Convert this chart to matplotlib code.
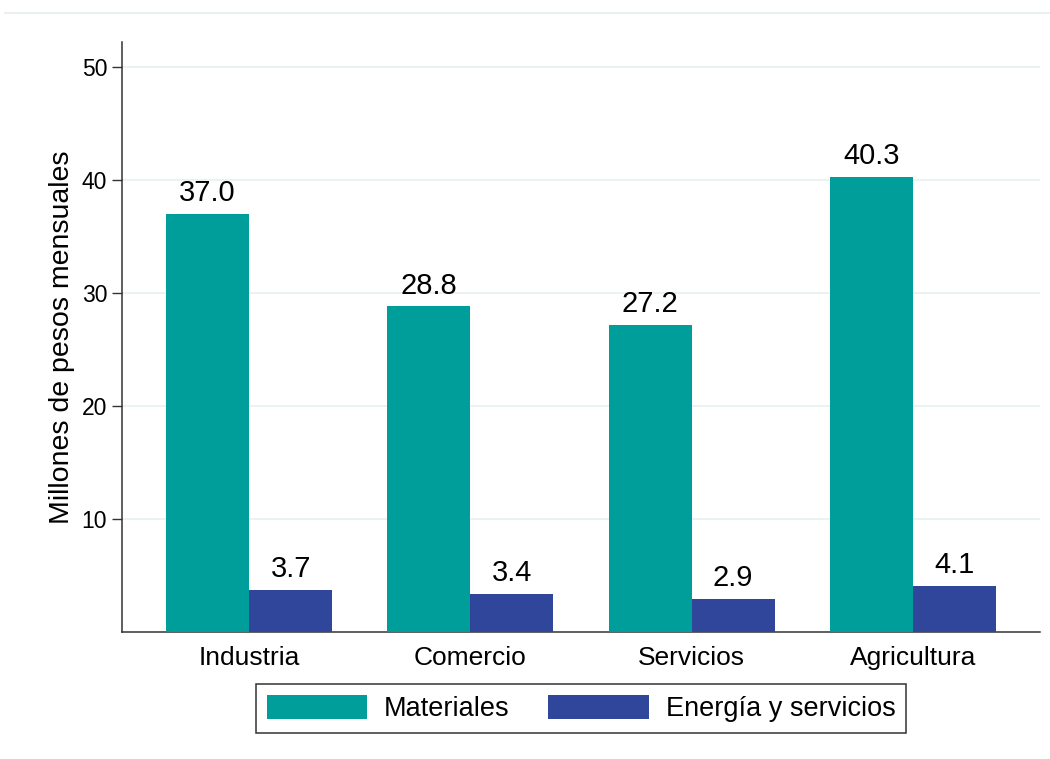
import matplotlib.pyplot as plt
import numpy as np
from matplotlib.lines import Line2D

plt.rcParams["font.family"] = ["Liberation Sans", "DejaVu Sans"]

# datos
sectores = ["Industria", "Comercio", "Servicios", "Agricultura"]
materiales = [37.0, 28.8, 27.2, 40.3]
energia = [3.7, 3.4, 2.9, 4.1]
series = ["Materiales", "Energía y servicios"]
yticks = [10, 20, 30, 40, 50]

col_mat = "#009e9a"
col_ene = "#30469a"

fig = plt.figure(figsize=(10.5, 7.59), dpi=100)
ax = fig.add_axes([122 / 1050, 1 - 632 / 759, (1040 - 122) / 1050, (632 - 42) / 759])

x = np.arange(len(sectores))
w = 0.3756
b1 = ax.bar(x - w / 2, materiales, width=w, color=col_mat, label=series[0], zorder=3)
b2 = ax.bar(x + w / 2, energia, width=w, color=col_ene, label=series[1], zorder=3)

for bars in (b1, b2):
    ax.bar_label(bars, fmt="%.1f", padding=5, fontsize=21, zorder=4)

ax.set_xlim(-0.575, 3.575)
ax.set_ylim(0, 52.2)
ax.set_xticks(x)
ax.set_xticklabels(sectores, fontsize=19)
ax.set_yticks(yticks)
ax.set_yticklabels([str(t) for t in yticks], fontsize=16.5)
ax.tick_params(axis="x", length=0, pad=10)
ax.tick_params(axis="y", length=7.2, width=1, color="#333333", pad=3.5)
ax.set_ylabel("Millones de pesos mensuales", fontsize=20.5, labelpad=5)

ax.grid(axis="y", color="#e8f0f1", linewidth=1.2, zorder=0)
for s in ("top", "right"):
    ax.spines[s].set_visible(False)
for s in ("left", "bottom"):
    ax.spines[s].set_color("#333333")
    ax.spines[s].set_linewidth(1.1)

leg = ax.legend(loc="center", bbox_to_anchor=(581 / 1050, 1 - 708.4 / 759),
                bbox_transform=fig.transFigure, ncol=2, fontsize=19.5,
                handlelength=3.7, handleheight=1.0, handletextpad=0.63,
                columnspacing=1.44, borderpad=0.4, fancybox=False,
                edgecolor="#333333", framealpha=1)
leg.get_frame().set_linewidth(1.1)

# linea superior del area del grafico
fig.add_artist(Line2D([5 / 1050, 1], [1 - 13 / 759, 1 - 13 / 759], color="#e6eeee",
                      linewidth=1.2, transform=fig.transFigure))

fig.savefig("out.png", dpi=100, facecolor="white")
